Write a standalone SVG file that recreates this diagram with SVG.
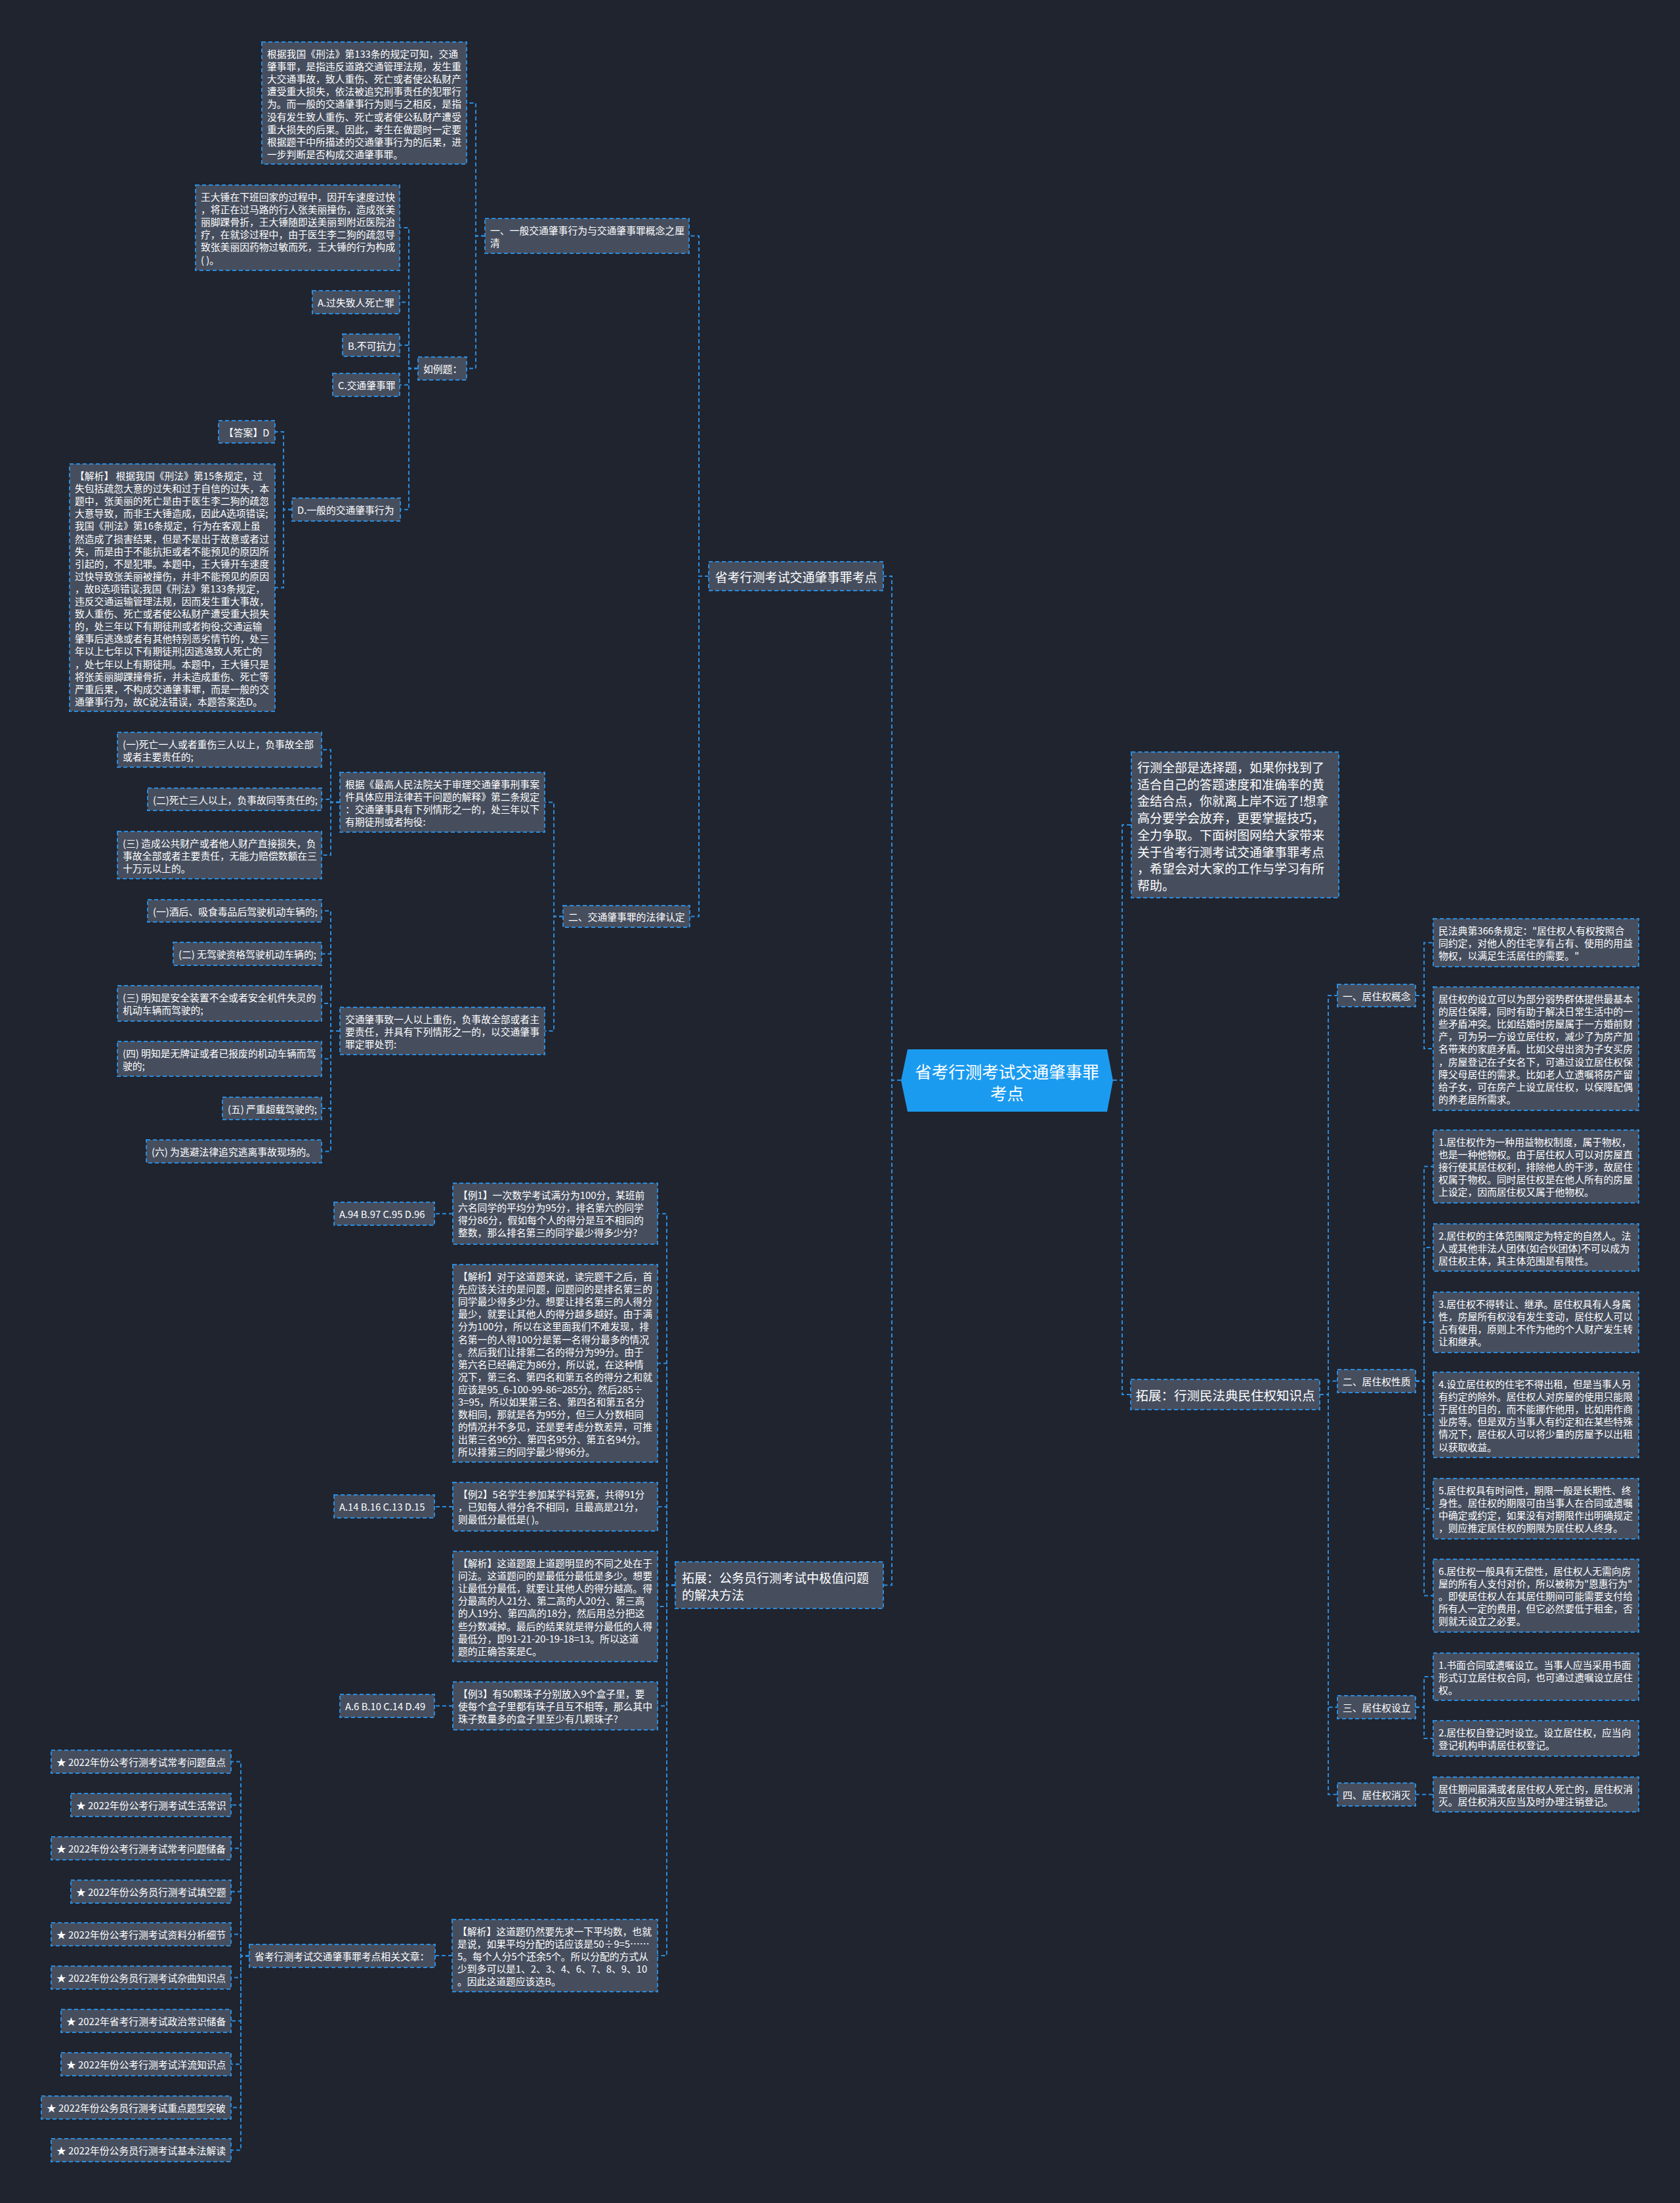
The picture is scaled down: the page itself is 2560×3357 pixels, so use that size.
<svg xmlns="http://www.w3.org/2000/svg" width="2560" height="3357" viewBox="0 0 2560 3357">
<style>
.bg{fill:#20242f}
.node rect{fill:#464e5e;stroke:#2a8cdd;stroke-width:2;stroke-dasharray:6 4}
.node text{fill:#ffffff;font-family:"Noto Sans CJK SC","Noto Sans",sans-serif;font-size:14.8px;dominant-baseline:central}
.cn path{fill:none;stroke:#2a8cdd;stroke-width:2;stroke-dasharray:6 4}
.center polygon{fill:#1b9bf0}
.center text{fill:#ffffff;font-family:"Noto Sans CJK SC","Noto Sans",sans-serif;font-size:25.5px;dominant-baseline:central;text-anchor:middle}
.big text{font-size:19px}
</style>
<rect class="bg" x="0" y="0" width="2560" height="3357"/>
<g id="connectors" class="cn">
<path d="M1373,1646 H1359 V878 H1346"/>
<path d="M1373,1646 H1359 V2415.5 H1346"/>
<path d="M1696,1646 H1710 V1257 H1724"/>
<path d="M1696,1646 H1710 V2125 H1723"/>
<path d="M1080,878 H1065 V359.5 H1050"/>
<path d="M1080,878 H1065 V1396.5 H1051"/>
<path d="M739,359.5 H725 V157 H711"/>
<path d="M739,359.5 H725 V561.5 H711"/>
<path d="M637,561.5 H623 V347 H609"/>
<path d="M637,561.5 H623 V460.5 H609"/>
<path d="M637,561.5 H623 V526 H609"/>
<path d="M637,561.5 H623 V586.5 H609"/>
<path d="M637,561.5 H623 V776.5 H610"/>
<path d="M445,776.5 H432 V658 H419"/>
<path d="M445,776.5 H432 V895.5 H419"/>
<path d="M858,1396.5 H844 V1222.5 H830"/>
<path d="M858,1396.5 H844 V1571 H830"/>
<path d="M518,1222.5 H504 V1142.5 H490"/>
<path d="M518,1222.5 H504 V1218 H490"/>
<path d="M518,1222.5 H504 V1303 H490"/>
<path d="M518,1571 H504 V1388 H490"/>
<path d="M518,1571 H504 V1453.5 H490"/>
<path d="M518,1571 H504 V1529 H490"/>
<path d="M518,1571 H504 V1613.5 H490"/>
<path d="M518,1571 H504 V1689 H490"/>
<path d="M518,1571 H504 V1754.5 H490"/>
<path d="M1029,2415.5 H1016 V1849.5 H1002"/>
<path d="M1029,2415.5 H1016 V2077.5 H1002"/>
<path d="M1029,2415.5 H1016 V2296 H1002"/>
<path d="M1029,2415.5 H1016 V2448 H1002"/>
<path d="M1029,2415.5 H1016 V2599.5 H1002"/>
<path d="M1029,2415.5 H1016 V2980 H1002"/>
<path d="M690,1849.5 H662"/>
<path d="M690,2296 H662"/>
<path d="M690,2599.5 H662"/>
<path d="M689,2980 H663"/>
<path d="M380,2980.5 H367 V2684.5 H352"/>
<path d="M380,2980.5 H367 V2750.5 H352"/>
<path d="M380,2980.5 H367 V2816.5 H352"/>
<path d="M380,2980.5 H367 V2882.5 H352"/>
<path d="M380,2980.5 H367 V2947.5 H352"/>
<path d="M380,2980.5 H367 V3013.5 H352"/>
<path d="M380,2980.5 H367 V3079.5 H352"/>
<path d="M380,2980.5 H367 V3145.5 H352"/>
<path d="M380,2980.5 H367 V3211.5 H352"/>
<path d="M380,2980.5 H367 V3276.5 H352"/>
<path d="M2011,2125 H2024 V1517 H2038"/>
<path d="M2011,2125 H2024 V2104.5 H2038"/>
<path d="M2011,2125 H2024 V2601.5 H2038"/>
<path d="M2011,2125 H2024 V2734.5 H2038"/>
<path d="M2157,1517 H2170 V1436.5 H2184"/>
<path d="M2157,1517 H2170 V1598 H2184"/>
<path d="M2157,2104.5 H2170 V1777.5 H2184"/>
<path d="M2157,2104.5 H2170 V1901 H2184"/>
<path d="M2157,2104.5 H2170 V2015 H2184"/>
<path d="M2157,2104.5 H2170 V2156 H2184"/>
<path d="M2157,2104.5 H2170 V2299 H2184"/>
<path d="M2157,2104.5 H2170 V2431.5 H2184"/>
<path d="M2157,2601.5 H2170 V2555 H2184"/>
<path d="M2157,2601.5 H2170 V2649 H2184"/>
<path d="M2157,2734.5 H2184"/>
</g>

<g id="center" class="center">
<polygon points="1383,1599 1687,1599 1696,1646.5 1687,1694 1383,1694 1373,1646.5"/>
<text x="1534.5" y="1631">省考行测考试交通肇事罪</text>
<text x="1534.5" y="1664">考点</text>
</g>

<g id="b1" class="node big"><rect x="1080" y="856" width="266" height="44"/><text x="1213" y="878" text-anchor="middle">省考行测考试交通肇事罪考点</text></g>
<g id="b2" class="node big"><rect x="1029" y="2380" width="317" height="71"/><text><tspan x="1039" y="2403">拓展：公务员行测考试中极值问题</tspan><tspan x="1039" y="2429">的解决方法</tspan></text></g>
<g id="intro" class="node big"><rect x="1724" y="1146" width="316" height="222"/><text><tspan x="1733" y="1168">行测全部是选择题，如果你找到了</tspan><tspan x="1733" y="1193.7">适合自己的答题速度和准确率的黄</tspan><tspan x="1733" y="1219.4">金结合点，你就离上岸不远了!想拿</tspan><tspan x="1733" y="1245.1">高分要学会放弃，更要掌握技巧，</tspan><tspan x="1733" y="1270.8">全力争取。下面树图网给大家带来</tspan><tspan x="1733" y="1296.5">关于省考行测考试交通肇事罪考点</tspan><tspan x="1733" y="1322.2">，希望会对大家的工作与学习有所</tspan><tspan x="1733" y="1347.9">帮助。</tspan></text></g>
<g id="r2" class="node"><rect x="1723" y="2102" width="288" height="46"/><text x="1867" y="2125" text-anchor="middle" style="font-size:19.5px">拓展：行测民法典民住权知识点</text></g>

<g id="n1" class="node"><rect x="739" y="333" width="311" height="53"/><text><tspan x="747" y="350">一、一般交通肇事行为与交通肇事罪概念之厘</tspan><tspan x="747" y="369.1">清</tspan></text></g>
<g id="n1a" class="node"><rect x="399" y="64" width="312" height="186"/><text><tspan x="407" y="81">根据我国《刑法》第133条的规定可知，交通</tspan><tspan x="407" y="100.1">肇事罪，是指违反道路交通管理法规，发生重</tspan><tspan x="407" y="119.2">大交通事故，致人重伤、死亡或者使公私财产</tspan><tspan x="407" y="138.3">遭受重大损失，依法被追究刑事责任的犯罪行</tspan><tspan x="407" y="157.4">为。而一般的交通肇事行为则与之相反，是指</tspan><tspan x="407" y="176.5">没有发生致人重伤、死亡或者使公私财产遭受</tspan><tspan x="407" y="195.6">重大损失的后果。因此，考生在做题时一定要</tspan><tspan x="407" y="214.7">根据题干中所描述的交通肇事行为的后果，进</tspan><tspan x="407" y="233.8">一步判断是否构成交通肇事罪。</tspan></text></g>
<g id="n1b" class="node"><rect x="637" y="544" width="74" height="35"/><text x="645" y="561.5">如例题：</text></g>
<g id="n1b1" class="node"><rect x="298" y="282" width="311" height="130"/><text><tspan x="306" y="299">王大锤在下班回家的过程中，因开车速度过快</tspan><tspan x="306" y="318.1">，将正在过马路的行人张美丽撞伤，造成张美</tspan><tspan x="306" y="337.2">丽脚踝骨折，王大锤随即送美丽到附近医院治</tspan><tspan x="306" y="356.3">疗，在就诊过程中，由于医生李二狗的疏忽导</tspan><tspan x="306" y="375.4">致张美丽因药物过敏而死，王大锤的行为构成</tspan><tspan x="306" y="394.5">( )。</tspan></text></g>
<g id="n1b2" class="node"><rect x="476" y="443" width="133" height="35"/><text x="484" y="460.5">A.过失致人死亡罪</text></g>
<g id="n1b3" class="node"><rect x="522" y="509" width="87" height="34"/><text x="530" y="526">B.不可抗力</text></g>
<g id="n1b4" class="node"><rect x="507" y="569" width="102" height="35"/><text x="515" y="586.5">C.交通肇事罪</text></g>
<g id="n1b5" class="node"><rect x="445" y="759" width="165" height="35"/><text x="453" y="776.5">D.一般的交通肇事行为</text></g>
<g id="n1b5a" class="node"><rect x="333" y="641" width="86" height="34"/><text x="341" y="658">【答案】D</text></g>
<g id="n1b5b" class="node"><rect x="106" y="707" width="313" height="377"/><text><tspan x="114" y="724">【解析】 根据我国《刑法》第15条规定，过</tspan><tspan x="114" y="743.1">失包括疏忽大意的过失和过于自信的过失，本</tspan><tspan x="114" y="762.2">题中，张美丽的死亡是由于医生李二狗的疏忽</tspan><tspan x="114" y="781.3">大意导致，而非王大锤造成，因此A选项错误;</tspan><tspan x="114" y="800.4">我国《刑法》第16条规定，行为在客观上虽</tspan><tspan x="114" y="819.5">然造成了损害结果，但是不是出于故意或者过</tspan><tspan x="114" y="838.6">失，而是由于不能抗拒或者不能预见的原因所</tspan><tspan x="114" y="857.7">引起的，不是犯罪。本题中，王大锤开车速度</tspan><tspan x="114" y="876.8">过快导致张美丽被撞伤，并非不能预见的原因</tspan><tspan x="114" y="895.9">，故B选项错误;我国《刑法》第133条规定，</tspan><tspan x="114" y="915">违反交通运输管理法规，因而发生重大事故，</tspan><tspan x="114" y="934.1">致人重伤、死亡或者使公私财产遭受重大损失</tspan><tspan x="114" y="953.2">的，处三年以下有期徒刑或者拘役;交通运输</tspan><tspan x="114" y="972.3">肇事后逃逸或者有其他特别恶劣情节的，处三</tspan><tspan x="114" y="991.4">年以上七年以下有期徒刑;因逃逸致人死亡的</tspan><tspan x="114" y="1010.5">，处七年以上有期徒刑。本题中，王大锤只是</tspan><tspan x="114" y="1029.6">将张美丽脚踝撞骨折，并未造成重伤、死亡等</tspan><tspan x="114" y="1048.7">严重后果，不构成交通肇事罪，而是一般的交</tspan><tspan x="114" y="1067.8">通肇事行为，故C说法错误，本题答案选D。</tspan></text></g>

<g id="n2" class="node"><rect x="858" y="1380" width="193" height="33"/><text x="866" y="1396.5">二、交通肇事罪的法律认定</text></g>
<g id="n2a" class="node"><rect x="518" y="1177" width="312" height="91"/><text><tspan x="526" y="1194">根据《最高人民法院关于审理交通肇事刑事案</tspan><tspan x="526" y="1213.1">件具体应用法律若干问题的解释》第二条规定</tspan><tspan x="526" y="1232.2">：交通肇事具有下列情形之一的，处三年以下</tspan><tspan x="526" y="1251.3">有期徒刑或者拘役:</tspan></text></g>
<g id="n2a1" class="node"><rect x="179" y="1116" width="311" height="53"/><text><tspan x="187" y="1133">(一)死亡一人或者重伤三人以上，负事故全部</tspan><tspan x="187" y="1152.1">或者主要责任的;</tspan></text></g>
<g id="n2a2" class="node"><rect x="225" y="1201" width="265" height="34"/><text x="233" y="1218">(二)死亡三人以上，负事故同等责任的;</text></g>
<g id="n2a3" class="node"><rect x="179" y="1267" width="311" height="72"/><text><tspan x="187" y="1284">(三) 造成公共财产或者他人财产直接损失，负</tspan><tspan x="187" y="1303.1">事故全部或者主要责任，无能力赔偿数额在三</tspan><tspan x="187" y="1322.2">十万元以上的。</tspan></text></g>
<g id="n2b" class="node"><rect x="518" y="1535" width="312" height="72"/><text><tspan x="526" y="1552">交通肇事致一人以上重伤，负事故全部或者主</tspan><tspan x="526" y="1571.1">要责任，并具有下列情形之一的，以交通肇事</tspan><tspan x="526" y="1590.2">罪定罪处罚:</tspan></text></g>
<g id="n2b1" class="node"><rect x="225" y="1371" width="265" height="34"/><text x="233" y="1388">(一)酒后、吸食毒品后驾驶机动车辆的;</text></g>
<g id="n2b2" class="node"><rect x="264" y="1436" width="226" height="35"/><text x="272" y="1453.5">(二) 无驾驶资格驾驶机动车辆的;</text></g>
<g id="n2b3" class="node"><rect x="179" y="1502" width="311" height="54"/><text><tspan x="187" y="1519">(三) 明知是安全装置不全或者安全机件失灵的</tspan><tspan x="187" y="1538.1">机动车辆而驾驶的;</tspan></text></g>
<g id="n2b4" class="node"><rect x="179" y="1587" width="311" height="53"/><text><tspan x="187" y="1604">(四) 明知是无牌证或者已报废的机动车辆而驾</tspan><tspan x="187" y="1623.1">驶的;</tspan></text></g>
<g id="n2b5" class="node"><rect x="339" y="1672" width="151" height="34"/><text x="347" y="1689">(五) 严重超载驾驶的;</text></g>
<g id="n2b6" class="node"><rect x="223" y="1737" width="267" height="35"/><text x="231" y="1754.5">(六) 为逃避法律追究逃离事故现场的。</text></g>

<g id="e1" class="node"><rect x="690" y="1803" width="312" height="93"/><text><tspan x="698" y="1820">【例1】一次数学考试满分为100分，某班前</tspan><tspan x="698" y="1839.1">六名同学的平均分为95分，排名第六的同学</tspan><tspan x="698" y="1858.2">得分86分，假如每个人的得分是互不相同的</tspan><tspan x="698" y="1877.3">整数，那么排名第三的同学最少得多少分?</tspan></text></g>
<g id="e1o" class="node"><rect x="509" y="1832" width="153" height="35"/><text x="517" y="1849.5">A.94 B.97 C.95 D.96</text></g>
<g id="e1j" class="node"><rect x="690" y="1927" width="312" height="301"/><text><tspan x="698" y="1944">【解析】对于这道题来说，读完题干之后，首</tspan><tspan x="698" y="1963.1">先应该关注的是问题，问题问的是排名第三的</tspan><tspan x="698" y="1982.2">同学最少得多少分。想要让排名第三的人得分</tspan><tspan x="698" y="2001.3">最少，就要让其他人的得分越多越好。由于满</tspan><tspan x="698" y="2020.4">分为100分，所以在这里面我们不难发现，排</tspan><tspan x="698" y="2039.5">名第一的人得100分是第一名得分最多的情况</tspan><tspan x="698" y="2058.6">。然后我们让排第二名的得分为99分。由于</tspan><tspan x="698" y="2077.7">第六名已经确定为86分，所以说，在这种情</tspan><tspan x="698" y="2096.8">况下，第三名、第四名和第五名的得分之和就</tspan><tspan x="698" y="2115.9">应该是95_6-100-99-86=285分。然后285÷</tspan><tspan x="698" y="2135">3=95，所以如果第三名、第四名和第五名分</tspan><tspan x="698" y="2154.1">数相同，那就是各为95分，但三人分数相同</tspan><tspan x="698" y="2173.2">的情况并不多见，还是要考虑分数差异，可推</tspan><tspan x="698" y="2192.3">出第三名96分、第四名95分、第五名94分。</tspan><tspan x="698" y="2211.4">所以排第三的同学最少得96分。</tspan></text></g>
<g id="e2" class="node"><rect x="690" y="2259" width="312" height="74"/><text><tspan x="698" y="2276">【例2】5名学生参加某学科竞赛，共得91分</tspan><tspan x="698" y="2295.1">，已知每人得分各不相同，且最高是21分，</tspan><tspan x="698" y="2314.2">则最低分最低是( )。</tspan></text></g>
<g id="e2o" class="node"><rect x="509" y="2278" width="153" height="35"/><text x="517" y="2295.5">A.14 B.16 C.13 D.15</text></g>
<g id="e2j" class="node"><rect x="690" y="2364" width="312" height="168"/><text><tspan x="698" y="2381">【解析】这道题跟上道题明显的不同之处在于</tspan><tspan x="698" y="2400.1">问法。这道题问的是最低分最低是多少。想要</tspan><tspan x="698" y="2419.2">让最低分最低，就要让其他人的得分越高。得</tspan><tspan x="698" y="2438.3">分最高的人21分、第二高的人20分、第三高</tspan><tspan x="698" y="2457.4">的人19分、第四高的18分，然后用总分把这</tspan><tspan x="698" y="2476.5">些分数减掉。最后的结果就是得分最低的人得</tspan><tspan x="698" y="2495.6">最低分，即91-21-20-19-18=13。所以这道</tspan><tspan x="698" y="2514.7">题的正确答案是C。</tspan></text></g>
<g id="e3" class="node"><rect x="690" y="2563" width="312" height="73"/><text><tspan x="698" y="2580">【例3】有50颗珠子分别放入9个盒子里，要</tspan><tspan x="698" y="2599.1">使每个盒子里都有珠子且互不相等，那么其中</tspan><tspan x="698" y="2618.2">珠子数量多的盒子里至少有几颗珠子?</tspan></text></g>
<g id="e3o" class="node"><rect x="518" y="2582" width="144" height="35"/><text x="526" y="2599.5">A.6 B.10 C.14 D.49</text></g>
<g id="e3j" class="node"><rect x="689" y="2925" width="313" height="110"/><text><tspan x="697" y="2942">【解析】这道题仍然要先求一下平均数，也就</tspan><tspan x="697" y="2961.1">是说，如果平均分配的话应该是50÷9=5……</tspan><tspan x="697" y="2980.2">5。每个人分5个还余5个。所以分配的方式从</tspan><tspan x="697" y="2999.3">少到多可以是1、2、3、4、6、7、8、9、10</tspan><tspan x="697" y="3018.4">。因此这道题应该选B。</tspan></text></g>
<g id="rel" class="node"><rect x="380" y="2963" width="283" height="35"/><text x="388" y="2980.5">省考行测考试交通肇事罪考点相关文章：</text></g>
<g id="rel1" class="node"><rect x="78" y="2667" width="274" height="35"/><text x="86" y="2684.5">★ 2022年份公考行测考试常考问题盘点</text></g>
<g id="rel2" class="node"><rect x="108" y="2733" width="244" height="35"/><text x="116" y="2750.5">★ 2022年份公考行测考试生活常识</text></g>
<g id="rel3" class="node"><rect x="78" y="2799" width="274" height="35"/><text x="86" y="2816.5">★ 2022年份公考行测考试常考问题储备</text></g>
<g id="rel4" class="node"><rect x="108" y="2865" width="244" height="35"/><text x="116" y="2882.5">★ 2022年份公务员行测考试填空题</text></g>
<g id="rel5" class="node"><rect x="78" y="2930" width="274" height="35"/><text x="86" y="2947.5">★ 2022年份公考行测考试资料分析细节</text></g>
<g id="rel6" class="node"><rect x="78" y="2996" width="274" height="35"/><text x="86" y="3013.5">★ 2022年份公务员行测考试杂曲知识点</text></g>
<g id="rel7" class="node"><rect x="93" y="3062" width="259" height="35"/><text x="101" y="3079.5">★ 2022年省考行测考试政治常识储备</text></g>
<g id="rel8" class="node"><rect x="93" y="3128" width="259" height="35"/><text x="101" y="3145.5">★ 2022年份公考行测考试洋流知识点</text></g>
<g id="rel9" class="node"><rect x="63" y="3194" width="289" height="35"/><text x="71" y="3211.5">★ 2022年份公务员行测考试重点题型突破</text></g>
<g id="rel10" class="node"><rect x="78" y="3259" width="274" height="35"/><text x="86" y="3276.5">★ 2022年份公务员行测考试基本法解读</text></g>

<g id="r1" class="node"><rect x="2038" y="1500" width="119" height="34"/><text x="2046" y="1517">一、居住权概念</text></g>
<g id="r1a" class="node"><rect x="2184" y="1400" width="313" height="73"/><text><tspan x="2192" y="1417">民法典第366条规定："居住权人有权按照合</tspan><tspan x="2192" y="1436.1">同约定，对他人的住宅享有占有、使用的用益</tspan><tspan x="2192" y="1455.2">物权，以满足生活居住的需要。"</tspan></text></g>
<g id="r1b" class="node"><rect x="2184" y="1504" width="313" height="188"/><text><tspan x="2192" y="1521">居住权的设立可以为部分弱势群体提供最基本</tspan><tspan x="2192" y="1540.1">的居住保障，同时有助于解决日常生活中的一</tspan><tspan x="2192" y="1559.2">些矛盾冲突。比如结婚时房屋属于一方婚前财</tspan><tspan x="2192" y="1578.3">产，可为另一方设立居住权，减少了为房产加</tspan><tspan x="2192" y="1597.4">名带来的家庭矛盾。比如父母出资为子女买房</tspan><tspan x="2192" y="1616.5">，房屋登记在子女名下，可通过设立居住权保</tspan><tspan x="2192" y="1635.6">障父母居住的需求。比如老人立遗嘱将房产留</tspan><tspan x="2192" y="1654.7">给子女，可在房产上设立居住权，以保障配偶</tspan><tspan x="2192" y="1673.8">的养老居所需求。</tspan></text></g>
<g id="r2n" class="node"><rect x="2038" y="2087" width="119" height="35"/><text x="2046" y="2104.5">二、居住权性质</text></g>
<g id="r2a" class="node"><rect x="2184" y="1722" width="313" height="111"/><text><tspan x="2192" y="1739">1.居住权作为一种用益物权制度，属于物权，</tspan><tspan x="2192" y="1758.1">也是一种他物权。由于居住权人可以对房屋直</tspan><tspan x="2192" y="1777.2">接行使其居住权利，排除他人的干涉，故居住</tspan><tspan x="2192" y="1796.3">权属于物权。同时居住权是在他人所有的房屋</tspan><tspan x="2192" y="1815.4">上设定，因而居住权又属于他物权。</tspan></text></g>
<g id="r2b" class="node"><rect x="2184" y="1865" width="313" height="72"/><text><tspan x="2192" y="1882">2.居住权的主体范围限定为特定的自然人。法</tspan><tspan x="2192" y="1901.1">人或其他非法人团体(如合伙团体)不可以成为</tspan><tspan x="2192" y="1920.2">居住权主体，其主体范围是有限性。</tspan></text></g>
<g id="r2c" class="node"><rect x="2184" y="1969" width="313" height="92"/><text><tspan x="2192" y="1986">3.居住权不得转让、继承。居住权具有人身属</tspan><tspan x="2192" y="2005.1">性，房屋所有权没有发生变动，居住权人可以</tspan><tspan x="2192" y="2024.2">占有使用，原则上不作为他的个人财产发生转</tspan><tspan x="2192" y="2043.3">让和继承。</tspan></text></g>
<g id="r2d" class="node"><rect x="2184" y="2091" width="313" height="130"/><text><tspan x="2192" y="2108">4.设立居住权的住宅不得出租，但是当事人另</tspan><tspan x="2192" y="2127.1">有约定的除外。居住权人对房屋的使用只能限</tspan><tspan x="2192" y="2146.2">于居住的目的，而不能挪作他用，比如用作商</tspan><tspan x="2192" y="2165.3">业房等。但是双方当事人有约定和在某些特殊</tspan><tspan x="2192" y="2184.4">情况下，居住权人可以将少量的房屋予以出租</tspan><tspan x="2192" y="2203.5">以获取收益。</tspan></text></g>
<g id="r2e" class="node"><rect x="2184" y="2253" width="313" height="92"/><text><tspan x="2192" y="2270">5.居住权具有时间性，期限一般是长期性、终</tspan><tspan x="2192" y="2289.1">身性。居住权的期限可由当事人在合同或遗嘱</tspan><tspan x="2192" y="2308.2">中确定或约定，如果没有对期限作出明确规定</tspan><tspan x="2192" y="2327.3">，则应推定居住权的期限为居住权人终身。</tspan></text></g>
<g id="r2f" class="node"><rect x="2184" y="2376" width="313" height="111"/><text><tspan x="2192" y="2393">6.居住权一般具有无偿性，居住权人无需向房</tspan><tspan x="2192" y="2412.1">屋的所有人支付对价，所以被称为"恩惠行为"</tspan><tspan x="2192" y="2431.2">。即使居住权人在其居住期间可能需要支付给</tspan><tspan x="2192" y="2450.3">所有人一定的费用，但它必然要低于租金，否</tspan><tspan x="2192" y="2469.4">则就无设立之必要。</tspan></text></g>
<g id="r3" class="node"><rect x="2038" y="2584" width="119" height="35"/><text x="2046" y="2601.5">三、居住权设立</text></g>
<g id="r3a" class="node"><rect x="2184" y="2519" width="313" height="72"/><text><tspan x="2192" y="2536">1.书面合同或遗嘱设立。当事人应当采用书面</tspan><tspan x="2192" y="2555.1">形式订立居住权合同，也可通过遗嘱设立居住</tspan><tspan x="2192" y="2574.2">权。</tspan></text></g>
<g id="r3b" class="node"><rect x="2184" y="2622" width="313" height="54"/><text><tspan x="2192" y="2639">2.居住权自登记时设立。设立居住权，应当向</tspan><tspan x="2192" y="2658.1">登记机构申请居住权登记。</tspan></text></g>
<g id="r4" class="node"><rect x="2038" y="2717" width="119" height="35"/><text x="2046" y="2734.5">四、居住权消灭</text></g>
<g id="r4a" class="node"><rect x="2184" y="2708" width="313" height="53"/><text><tspan x="2192" y="2725">居住期间届满或者居住权人死亡的，居住权消</tspan><tspan x="2192" y="2744.1">灭。居住权消灭应当及时办理注销登记。</tspan></text></g>
</svg>
